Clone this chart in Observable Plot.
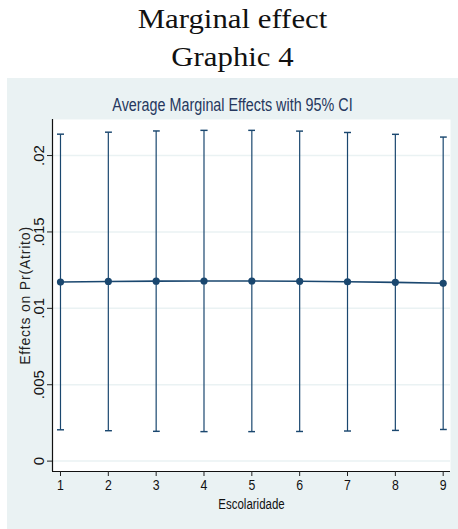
<!DOCTYPE html>
<html>
<head>
<meta charset="utf-8">
<script src="https://cdn.jsdelivr.net/npm/d3@7"></script>
<script src="https://cdn.jsdelivr.net/npm/@observablehq/plot@0.6"></script>
<style>
  body { margin: 0; background: #fff; }
  #head {
    width: 451px; margin-left: 7px; text-align: center;
    font-family: "Liberation Serif", "DejaVu Serif", serif;
    font-size: 28px; line-height: 38px; color: #111;
  }
  #head div { transform: scaleX(1.1); }
  #chart { margin-left: 7px; margin-top: 2px; line-height: 0; }
</style>
</head>
<body>
<div id="head"><div>Marginal effect</div><div>Graphic 4</div></div>
<div id="chart"></div>
<script>
// Average marginal effects of schooling on Pr(Atrito), with 95% confidence limits
const escolaridade = [1, 2, 3, 4, 5, 6, 7, 8, 9];
const margin = [0.01172, 0.01176, 0.01178, 0.01179, 0.01179, 0.01177, 0.01174, 0.01170, 0.01164];
const lower  = [0.00205, 0.00199, 0.00195, 0.00193, 0.00193, 0.00194, 0.00197, 0.00201, 0.00207];
const upper  = [0.02140, 0.02153, 0.02161, 0.02165, 0.02165, 0.02160, 0.02151, 0.02139, 0.02121];
const yTicks = [0, 0.005, 0.01, 0.015, 0.02];
const yTickLabels = ["0", ".005", ".01", ".015", ".02"];
const xDomain = [0.833, 9.153];
const yDomain = [-0.00068, 0.02236];

const rows = escolaridade.map((x, i) => ({x, m: margin[i], lo: lower[i], hi: upper[i]}));
const navy = "#1A476F";
const panel = "#EAF2F3";
const sans = `"Liberation Sans", Arial, sans-serif`;
const condense = 0.82; // horizontal squeeze giving the narrow Stata lettering

const chart = Plot.plot({
  width: 451,
  height: 451,
  marginLeft: 45,
  marginRight: 8,
  marginTop: 41,
  marginBottom: 58,
  style: {background: panel, fontFamily: sans, fontSize: "15px", color: "#000", overflow: "visible"},
  x: {domain: xDomain},
  y: {domain: yDomain},
  marks: [
    Plot.frame({fill: "white", stroke: null}),
    Plot.gridY(yTicks, {stroke: panel, strokeOpacity: 1, strokeWidth: 1.5}),
    Plot.link(rows, {
      x1: "x", x2: "x", y1: "lo", y2: "hi",
      stroke: navy, strokeWidth: 1.2, markerStart: "tick", markerEnd: "tick"
    }),
    Plot.line(rows, {x: "x", y: "m", stroke: navy, strokeWidth: 1.6}),
    Plot.dot(rows, {x: "x", y: "m", r: 3.6, fill: navy, stroke: null}),
    Plot.ruleX([xDomain[0]], {stroke: "#111", strokeWidth: 1.2}),
    Plot.ruleY([yDomain[0]], {stroke: "#111", strokeWidth: 1.2}),
    Plot.axisX(escolaridade, {
      tickSize: 5, tickPadding: 3, tickFormat: d => String(d),
      stroke: "#222", fill: "#111", fontSize: 15,
      label: null
    }),
    Plot.axisX({
      ticks: [], tickSize: 0, fill: "#111", fontSize: 14,
      label: "Escolaridade", labelAnchor: "center", labelArrow: "none", labelOffset: 37
    }),
    Plot.axisY(yTicks, {
      tickSize: 5, tickPadding: 4, tickRotate: -90,
      tickFormat: d => yTickLabels[yTicks.indexOf(d)],
      stroke: "#222", fill: "#111", fontSize: 15,
      label: null
    }),
    // y axis title, centred on the plotting area
    Plot.text(["Effects on Pr(Atrito)"], {
      frameAnchor: "left", rotate: -90, dx: -27, text: d => d,
      fontFamily: sans, fontSize: 14,
      fill: "#222", lineAnchor: "middle", textAnchor: "middle"
    })
  ]
});

const svg = d3.select(chart);

// narrow lettering for the x tick labels and the x title
svg.selectAll('g[aria-label="x-axis tick label"] text, g[aria-label="x-axis label"] text')
  .attr("transform", function () {
    return (this.getAttribute("transform") || "") + ` scale(${condense},1)`;
  });

// wider letter spacing on the y title
svg.selectAll("text").filter(function () {
  return this.textContent === "Effects on Pr(Atrito)";
}).attr("letter-spacing", "0.8px");

// chart title across the whole panel
svg.append("text")
  .attr("transform", `translate(${451 / 2},33) scale(${condense},1)`)
  .attr("text-anchor", "middle")
  .attr("font-family", sans)
  .attr("font-size", 17.5)
  .attr("fill", "#26385E")
  .text("Average Marginal Effects with 95% CI");

document.getElementById("chart").append(chart);
</script>
</body>
</html>
